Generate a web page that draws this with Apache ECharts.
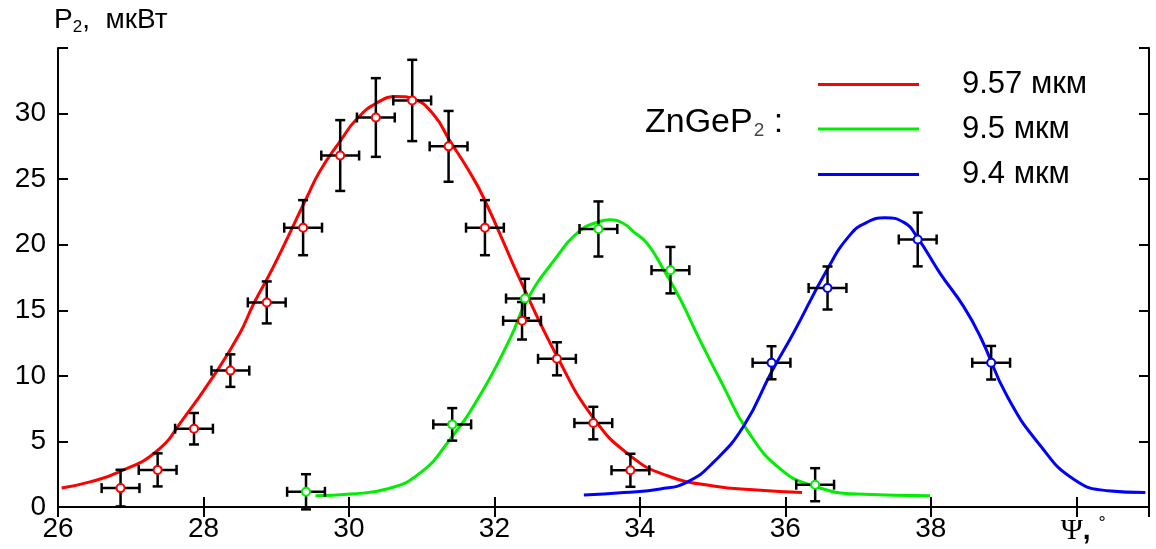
<!DOCTYPE html>
<html><head><meta charset="utf-8">
<script src="https://cdn.jsdelivr.net/npm/echarts@6.0.0/dist/echarts.min.js"></script>
<style>html,body{margin:0;padding:0;background:#fff}#c{width:1156px;height:549px}</style>
</head><body><div id="c"></div>
<script>
// ---- data ----
const seriesNames = ['9.57 мкм', '9.5 мкм', '9.4 мкм'];
const seriesColors = ['#ff0000', '#00ee00', '#0000ff'];

// fitted curves [x, y]
const curveRed = [[26.05,1.45],[26.44,1.92],[26.85,2.7],[27.36,4.27],[27.72,6.7],[28.14,10.0],[28.5,13.25],[28.69,15.5],[28.96,18.3],[29.42,23.6],[29.6,25.6],[29.88,27.9],[30.11,29.6],[30.38,30.8],[30.66,31.3],[30.89,31.1],[31.16,29.95],[31.39,27.9],[31.62,25.9],[31.85,23.6],[32.38,17.0],[32.86,11.5],[33.36,6.8],[33.87,3.9],[34.37,2.4],[35.01,1.6],[35.61,1.3],[36.23,1.1]];
const curveGreen = [[29.54,0.86],[30.02,0.99],[30.52,1.37],[30.98,2.6],[31.39,5.16],[31.8,8.5],[32.22,12.9],[32.45,15.8],[32.82,18.8],[33.18,21.1],[33.41,21.7],[33.59,21.9],[33.78,21.6],[33.91,21.0],[34.1,20.1],[34.33,18.06],[34.56,15.8],[34.81,12.9],[35.15,9.2],[35.47,5.9],[35.93,2.9],[36.39,1.6],[36.99,0.99],[37.99,0.86]];
const curveBlue = [[33.23,0.91],[33.78,1.1],[34.28,1.37],[34.65,1.9],[35.01,3.4],[35.43,6.2],[35.81,10.3],[36.11,13.25],[36.57,18.06],[36.89,20.75],[37.12,21.7],[37.37,22.05],[37.63,21.7],[37.81,20.6],[38.13,17.8],[38.45,15.3],[38.68,13.0],[39.05,8.45],[39.51,4.65],[39.97,2.1],[40.43,1.24],[40.95,1.1]];

// measured points [x, y, xErr, yErr]
const pointsRed = [[26.86,1.44,0.26,1.4],[27.37,2.83,0.26,1.26],[27.87,5.97,0.26,1.2],[28.37,10.4,0.26,1.24],[28.87,15.6,0.26,1.6],[29.37,21.3,0.26,2.1],[29.88,26.8,0.26,2.7],[30.37,29.7,0.26,3.0],[30.87,31.0,0.26,3.1],[31.37,27.5,0.26,2.7],[31.87,21.3,0.26,2.1],[32.38,14.2,0.26,1.43],[32.86,11.3,0.26,1.26],[33.36,6.4,0.26,1.24],[33.87,2.8,0.26,1.26]];
const pointsGreen = [[29.41,1.16,0.26,1.34],[31.42,6.3,0.26,1.24],[32.42,15.9,0.26,1.5],[33.43,21.2,0.26,2.1],[34.42,18.06,0.26,1.77],[36.41,1.7,0.26,1.26]];
const pointsBlue = [[35.81,11.0,0.26,1.26],[36.58,16.7,0.26,1.64],[37.82,20.4,0.26,2.05],[38.83,11.0,0.26,1.28]];

const xMin = 26, xMax = 41, xStep = 2;
const yMin = 0, yMax = 35, yStep = 5;
const yTitle = ['P', '2', ',  мкВт'];
const materialLabel = ['ZnGeP', '2', ' :'];
const xAxisSymbol = ['Ψ', ',', '°'];

// ---- chart ----
const FONT = 'Liberation Sans, Arial, sans-serif';
const chart = echarts.init(document.getElementById('c'), null, {renderer: 'canvas'});

const axisLineStyle = {color: '#000', width: 2};
const tickStyle = {show: true, inside: true, length: 10, lineStyle: {color: '#000', width: 2}};

function errRender(params, api) {
  const x = api.value(0), y = api.value(1), ex = api.value(2), ey = api.value(3);
  const l = api.coord([x - ex, y]), r = api.coord([x + ex, y]);
  const t = api.coord([x, y + ey]), b = api.coord([x, y - ey]);
  const cap = 5;
  const st = {stroke: '#000', lineWidth: 2.5};
  const mk = (x1, y1, x2, y2) => ({type: 'line', shape: {x1, y1, x2, y2}, style: st});
  return {type: 'group', children: [
    mk(l[0], l[1], r[0], r[1]),
    mk(t[0], t[1], b[0], b[1]),
    mk(l[0], l[1] - cap, l[0], l[1] + cap),
    mk(r[0], r[1] - cap, r[0], r[1] + cap),
    mk(t[0] - cap, t[1], t[0] + cap, t[1]),
    mk(b[0] - cap, b[1], b[0] + cap, b[1])
  ]};
}

const curves = [curveRed, curveGreen, curveBlue];
const pts = [pointsRed, pointsGreen, pointsBlue];

const series = [];
curves.forEach((c, i) => series.push({
  name: seriesNames[i], type: 'line', data: c, smooth: 0.5,
  symbol: 'none', color: seriesColors[i], lineStyle: {width: 3, color: seriesColors[i]}, z: 2, silent: true
}));
pts.forEach((p, i) => series.push({
  name: 'err' + i, type: 'custom', data: p, renderItem: errRender, clip: false, z: 3, silent: true,
  encode: {x: 0, y: 1}
}));
pts.forEach((p, i) => series.push({
  name: 'pts' + i, type: 'scatter', data: p.map(d => [d[0], d[1]]), symbol: 'circle', symbolSize: 8,
  itemStyle: {color: '#fff', borderColor: seriesColors[i], borderWidth: 2, opacity: 1}, z: 4, silent: true
}));

const legendRowsTop = [64, 108.5, 154];
const legends = seriesNames.map((n, i) => ({
  data: [n], left: 813, top: legendRowsTop[i], icon: 'rect', itemWidth: 101, itemHeight: 3,
  selectedMode: false, padding: 5,
  textStyle: {fontSize: 31, fontFamily: FONT, color: '#000', padding: [0, 0, 0, 38], lineHeight: 30}
}));

chart.setOption({
  animation: false,
  backgroundColor: '#fff',
  grid: {left: 58, right: 7, top: 48, bottom: 42},
  legend: legends,
  xAxis: [{
    type: 'value', min: xMin, max: xMax, interval: xStep, position: 'bottom',
    axisLine: {show: true, lineStyle: axisLineStyle}, axisTick: tickStyle, splitLine: {show: false},
    axisLabel: {
      fontSize: 28, fontFamily: FONT, color: '#000', margin: 8,
      formatter: v => v === 40 ? '{p|' + xAxisSymbol[0] + '}{c|' + xAxisSymbol[1] + '}{d|' + xAxisSymbol[2] + '}' : (v > 40 ? '' : String(v)),
      rich: {
        p: {fontSize: 30, fontFamily: 'Liberation Serif, DejaVu Serif, serif', color: '#000', padding: [0, 0, 0, 14]},
        c: {fontSize: 28, fontFamily: FONT, color: '#000', fontWeight: 'bold', padding: [0, 8, 0, 0]},
        d: {fontSize: 18, fontFamily: FONT, color: '#000', verticalAlign: 'top', padding: [0, 0, 14, 0]}
      }
    }
  }, {
    type: 'value', min: xMin, max: xMax, interval: xStep, position: 'top',
    axisLine: {show: true, lineStyle: axisLineStyle}, axisTick: tickStyle, splitLine: {show: false},
    axisLabel: {show: false}
  }],
  yAxis: [{
    type: 'value', min: yMin, max: yMax, interval: yStep, position: 'left',
    axisLine: {show: true, lineStyle: axisLineStyle}, axisTick: tickStyle, splitLine: {show: false},
    axisLabel: {fontSize: 28, fontFamily: FONT, color: '#000', margin: 12, formatter: v => v >= yMax ? '' : String(v)}
  }, {
    type: 'value', min: yMin, max: yMax, interval: yStep, position: 'right',
    axisLine: {show: true, lineStyle: axisLineStyle}, axisTick: tickStyle, splitLine: {show: false},
    axisLabel: {show: false}
  }],
  graphic: [{
    type: 'text', left: 54, top: 6,
    style: {
      text: '{a|' + yTitle[0] + '}{s|' + yTitle[1] + '}{a|' + yTitle[2] + '}',
      rich: {
        a: {fontSize: 28, fontFamily: FONT, fill: '#000'},
        s: {fontSize: 17, fontFamily: FONT, fill: '#000', verticalAlign: 'bottom', padding: [14, 0, 0, 0]}
      }
    }
  }, {
    type: 'text', left: 645, top: 106,
    style: {
      text: '{a|' + materialLabel[0] + '}{s|' + materialLabel[1] + '}{a|' + materialLabel[2] + '}',
      rich: {
        a: {fontSize: 34, fontFamily: FONT, fill: '#000'},
        s: {fontSize: 19, fontFamily: FONT, fill: '#444', verticalAlign: 'bottom', padding: [16, 0, 0, 1]}
      }
    }
  }],
  series: series
});
</script>
</body></html>
